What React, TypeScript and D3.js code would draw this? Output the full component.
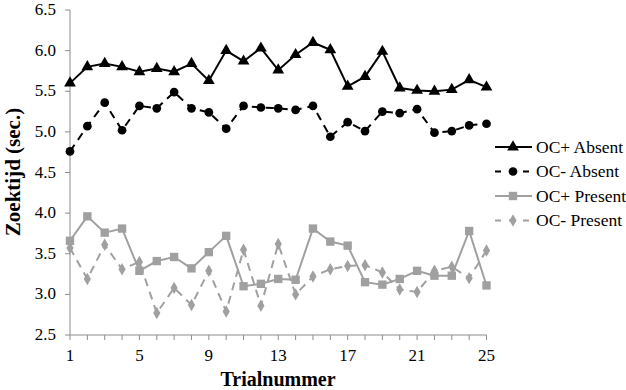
import React from "react";
import * as d3 from "d3";

// trial numbers 1..25
const trials = [1, 2, 3, 4, 5, 6, 7, 8, 9, 10, 11, 12, 13, 14, 15, 16, 17, 18, 19, 20, 21, 22, 23, 24, 25];
const xTickLabels = [1, 5, 9, 13, 17, 21, 25];
const yTicks = [2.5, 3.0, 3.5, 4.0, 4.5, 5.0, 5.5, 6.0, 6.5];

const ocPlusAbsent = [5.6, 5.8, 5.84, 5.8, 5.74, 5.78, 5.74, 5.84, 5.63, 6.0, 5.87, 6.03, 5.76, 5.95, 6.1, 6.01, 5.56, 5.68, 5.99, 5.54, 5.51, 5.5, 5.52, 5.64, 5.55];
const ocMinAbsent = [4.76, 5.07, 5.36, 5.02, 5.32, 5.29, 5.49, 5.29, 5.24, 5.04, 5.32, 5.3, 5.29, 5.27, 5.32, 4.94, 5.12, 5.01, 5.25, 5.23, 5.28, 4.99, 5.01, 5.08, 5.1];
const ocPlusPresent = [3.66, 3.96, 3.76, 3.81, 3.29, 3.41, 3.46, 3.32, 3.52, 3.72, 3.1, 3.13, 3.19, 3.18, 3.81, 3.65, 3.6, 3.15, 3.12, 3.19, 3.29, 3.23, 3.23, 3.78, 3.11];
const ocMinPresent = [3.57, 3.19, 3.61, 3.31, 3.4, 2.77, 3.08, 2.87, 3.29, 2.79, 3.55, 2.86, 3.62, 3.0, 3.22, 3.31, 3.35, 3.36, 3.27, 3.06, 3.03, 3.29, 3.34, 3.2, 3.54];

const series = [
  { name: "OC+ Absent", values: ocPlusAbsent, color: "#000", dash: "none", symbol: d3.symbolTriangle, size: 60 },
  { name: "OC-  Absent", values: ocMinAbsent, color: "#000", dash: "8,6", symbol: d3.symbolCircle, size: 60 },
  { name: "OC+ Present", values: ocPlusPresent, color: "#a0a0a0", dash: "none", symbol: d3.symbolSquare, size: 70 },
  { name: "OC-  Present", values: ocMinPresent, color: "#a0a0a0", dash: "8,6", symbol: d3.symbolDiamond, size: 45 },
];

const W = 626;
const H = 390;
const font = "'Liberation Serif', 'Times New Roman', serif";

export default function App() {
  const x = d3.scaleLinear().domain([1, 25]).range([70, 486.5]);
  const y = d3.scaleLinear().domain([2.5, 6.5]).range([335, 10]);

  const line = d3.line<number>()
    .x((d, i) => x(trials[i]))
    .y((d) => y(d));

  return (
    <div style={{ position: "absolute", left: 0, top: 0 }}>
      <svg width={W} height={H} style={{ display: "block", background: "#fff" }}>
        {/* y axis */}
        <line x1={x(1)} x2={x(1)} y1={y(6.5)} y2={y(2.5)} stroke="#8c8c8c" strokeWidth={1} />
        {yTicks.map((t) => (
          <g key={t}>
            <line x1={x(1) - 5} x2={x(1)} y1={y(t)} y2={y(t)} stroke="#8c8c8c" />
            <text x={56} y={y(t) + 5} textAnchor="end" fontFamily={font} fontSize={17}>
              {d3.format(".1f")(t)}
            </text>
          </g>
        ))}
        {/* x axis */}
        <line x1={x(1)} x2={x(25)} y1={y(2.5)} y2={y(2.5)} stroke="#8c8c8c" strokeWidth={1} />
        {trials.map((t) => (
          <line key={t} x1={x(t)} x2={x(t)} y1={y(2.5)} y2={y(2.5) + 5} stroke="#8c8c8c" />
        ))}
        {xTickLabels.map((t) => (
          <text key={t} x={x(t)} y={361} textAnchor="middle" fontFamily={font} fontSize={17}>
            {t}
          </text>
        ))}
        <text x={278} y={386} textAnchor="middle" fontFamily={font} fontSize={20} fontWeight="bold">
          Trialnummer
        </text>
        <text
          transform={`translate(20,172) rotate(-90)`}
          textAnchor="middle"
          fontFamily={font}
          fontSize={21}
          fontWeight="bold"
        >
          Zoektijd (sec.)
        </text>

        {series.map((s) => (
          <g key={s.name}>
            <path d={line(s.values) || ""} fill="none" stroke={s.color} strokeWidth={2} strokeDasharray={s.dash} />
            {s.values.map((v, i) => (
              <path
                key={i}
                d={d3.symbol().type(s.symbol).size(s.size)() || ""}
                transform={`translate(${x(trials[i])},${y(v)})`}
                fill={s.color}
              />
            ))}
          </g>
        ))}

        {/* legend */}
        {series.map((s, i) => {
          const ly = 147 + i * 24.5;
          return (
            <g key={s.name}>
              <line x1={495} x2={532} y1={ly} y2={ly} stroke={s.color} strokeWidth={2} strokeDasharray={s.dash === "none" ? "none" : "6,8"} />
              <path d={d3.symbol().type(s.symbol).size(s.size)() || ""} transform={`translate(513,${ly})`} fill={s.color} />
              <text x={536} y={ly + 5.5} fontFamily={font} fontSize={17.5}>
                {s.name}
              </text>
            </g>
          );
        })}
      </svg>
    </div>
  );
}
